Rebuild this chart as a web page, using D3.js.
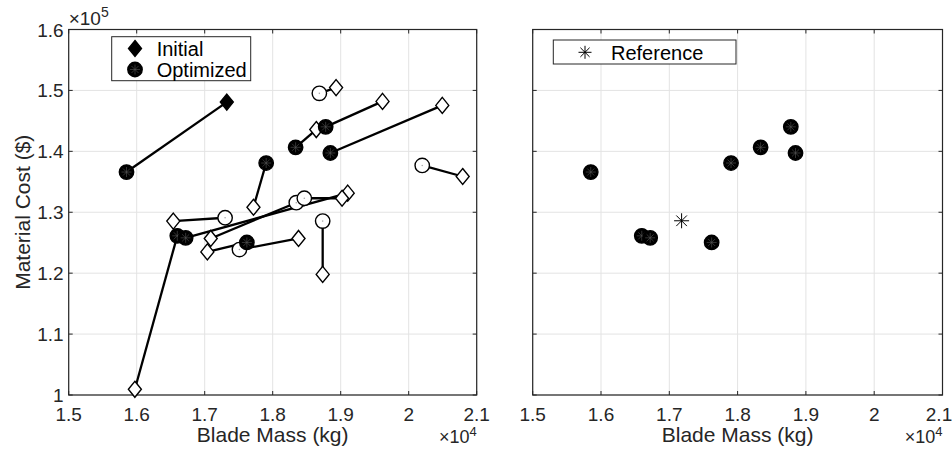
<!DOCTYPE html>
<html>
<head>
<meta charset="utf-8">
<script src="https://cdn.jsdelivr.net/npm/d3@7"></script>
<style>
  body { margin: 0; background: #fff; }
  svg { font-family: "Liberation Sans", Arial, Helvetica, sans-serif; }
</style>
</head>
<body>
<svg width="952" height="449"></svg>
<script>
"use strict";

// Data (mass in kg, cost in $)
const initMass = [17325, 15973, 19103, 17039, 17717, 18641, 19615, 20494, 18932, 20794, 16538, 18380, 17089, 19020, 18735];
const initCost = [148080, 100940, 133130, 123490, 130820, 143580, 148200, 147540, 150460, 135870, 128550, 125700, 125700, 132300, 119800];
const optMass = [15850, 16597, 16720, 17620, 17904, 18337, 18779, 18848, 18686, 20199, 17300, 17511, 18347, 18465, 18735];
const optCost = [136600, 126130, 125800, 125040, 138080, 140660, 144020, 139730, 149520, 137680, 129100, 123880, 131570, 132300, 128550];
const converged = [true, true, true, true, true, true, true, true, false, false, false, false, false, false, false];
const refMass = [17180];
const refCost = [128600];
const xTicks = [15000, 16000, 17000, 18000, 19000, 20000, 21000];
const yTicks = [100000, 110000, 120000, 130000, 140000, 150000, 160000];

// Layout
const yTop = 29.5, yBottom = 395;
const panels = [{ l: 68.7, r: 476.7 }, { l: 532.7, r: 942.5 }];
const ink = "#262626";
const W = 952;

const svg = d3.select("svg");

const yScale = d3.scaleLinear().domain([100000, 160000]).range([yBottom, yTop]);

function diamond(g, x, y, fill) {
  g.append("path")
    .attr("d", `M${x},${y - 8}L${x + 6.5},${y}L${x},${y + 8}L${x - 6.5},${y}Z`)
    .attr("fill", fill).attr("stroke", "#000").attr("stroke-width", 1.4);
}

function circle(g, x, y, filled) {
  g.append("circle").attr("cx", x).attr("cy", y).attr("r", 7.2)
    .attr("fill", filled ? "#000" : "#fff")
    .attr("stroke", "#000").attr("stroke-width", 1.4);
  if (filled) {
    for (let a = 0; a < 4; a++) {
      const t = a * Math.PI / 4;
      g.append("line")
        .attr("x1", x - 5 * Math.cos(t)).attr("y1", y - 5 * Math.sin(t))
        .attr("x2", x + 5 * Math.cos(t)).attr("y2", y + 5 * Math.sin(t))
        .attr("stroke", "#555").attr("stroke-width", 0.6);
    }
  } else {
    g.append("circle").attr("cx", x).attr("cy", y).attr("r", 0.8).attr("fill", "#aaa");
  }
}

function asterisk(g, x, y, s, w) {
  for (let a = 0; a < 4; a++) {
    const t = a * Math.PI / 4;
    g.append("line")
      .attr("x1", x - s * Math.cos(t)).attr("y1", y - s * Math.sin(t))
      .attr("x2", x + s * Math.cos(t)).attr("y2", y + s * Math.sin(t))
      .attr("stroke", "#000").attr("stroke-width", w);
  }
}

function drawAxes(p, xScale, showY) {
  const g = svg.append("g");
  // grid
  g.selectAll(".gx").data(xTicks).join("line")
    .attr("x1", d => xScale(d)).attr("x2", d => xScale(d))
    .attr("y1", yTop).attr("y2", yBottom)
    .attr("stroke", "#e3e3e3").attr("stroke-width", 1);
  g.selectAll(".gy").data(yTicks).join("line")
    .attr("x1", p.l).attr("x2", p.r)
    .attr("y1", d => yScale(d)).attr("y2", d => yScale(d))
    .attr("stroke", "#e3e3e3").attr("stroke-width", 1);
  // inward ticks on all sides
  xTicks.forEach(d => {
    g.append("line").attr("x1", xScale(d)).attr("x2", xScale(d)).attr("y1", yBottom).attr("y2", yBottom - 4).attr("stroke", ink);
    g.append("line").attr("x1", xScale(d)).attr("x2", xScale(d)).attr("y1", yTop).attr("y2", yTop + 4).attr("stroke", ink);
  });
  yTicks.forEach(d => {
    g.append("line").attr("x1", p.l).attr("x2", p.l + 4).attr("y1", yScale(d)).attr("y2", yScale(d)).attr("stroke", ink);
    g.append("line").attr("x1", p.r).attr("x2", p.r - 4).attr("y1", yScale(d)).attr("y2", yScale(d)).attr("stroke", ink);
  });
  g.append("rect").attr("x", p.l).attr("y", yTop)
    .attr("width", p.r - p.l).attr("height", yBottom - yTop)
    .attr("fill", "none").attr("stroke", ink).attr("stroke-width", 1.2);

  // tick labels (last one kept inside the page)
  g.selectAll(".tx").data(xTicks).join("text")
    .attr("x", d => Math.min(xScale(d), W - 13)).attr("y", 421)
    .attr("text-anchor", "middle").attr("font-size", 19).attr("fill", ink)
    .text(d => d3.format("")(d / 1e4));
  const xm = g.append("text").attr("x", p.r).attr("y", 443)
    .attr("text-anchor", "end").attr("font-size", 18).attr("fill", ink);
  xm.append("tspan").text("\u00d710");
  xm.append("tspan").attr("dy", -7).attr("font-size", 13).text("4");
  g.append("text").attr("x", (p.l + p.r) / 2).attr("y", 442)
    .attr("text-anchor", "middle").attr("font-size", 21).attr("fill", ink)
    .text("Blade Mass (kg)");

  if (showY) {
    g.selectAll(".ty").data(yTicks).join("text")
      .attr("x", p.l - 5).attr("y", d => yScale(d) + 7)
      .attr("text-anchor", "end").attr("font-size", 19).attr("fill", ink)
      .text(d => d3.format("")(d / 1e5));
    const ym = g.append("text").attr("x", p.l).attr("y", 25)
      .attr("font-size", 19).attr("fill", ink);
    ym.append("tspan").text("\u00d710");
    ym.append("tspan").attr("dy", -8).attr("font-size", 14).text("5");
    g.append("text")
      .attr("transform", `translate(30, ${(yTop + yBottom) / 2}) rotate(-90)`)
      .attr("text-anchor", "middle").attr("font-size", 21).attr("fill", ink)
      .text("Material Cost ($)");
  }
}

// Left panel
const xLeft = d3.scaleLinear().domain([15000, 21000]).range([panels[0].l, panels[0].r]);
drawAxes(panels[0], xLeft, true);

const gl = svg.append("g");
initMass.forEach((m, i) => {
  gl.append("line")
    .attr("x1", xLeft(m)).attr("y1", yScale(initCost[i]))
    .attr("x2", xLeft(optMass[i])).attr("y2", yScale(optCost[i]))
    .attr("stroke", "#000").attr("stroke-width", 2.3);
});
initMass.forEach((m, i) => {
  diamond(gl, xLeft(m), yScale(initCost[i]), i === 0 ? "#000" : "#fff");
});
// open circles first, filled on top
optMass.forEach((m, i) => {
  if (!converged[i]) circle(gl, xLeft(m), yScale(optCost[i]), false);
});
optMass.forEach((m, i) => {
  if (converged[i]) circle(gl, xLeft(m), yScale(optCost[i]), true);
});

// Left legend
const lg = svg.append("g");
lg.append("rect").attr("x", 111.7).attr("y", 36.7).attr("width", 139).attr("height", 44)
  .attr("fill", "#fff").attr("stroke", ink).attr("stroke-width", 1);
diamond(lg, 135, 48.5, "#000");
circle(lg, 135, 69.5, true);
lg.append("text").attr("x", 156.7).attr("y", 55.5).attr("font-size", 20).attr("fill", "#000").text("Initial");
lg.append("text").attr("x", 156.7).attr("y", 76.5).attr("font-size", 20).attr("fill", "#000").text("Optimized");

// Right panel
const xRight = d3.scaleLinear().domain([15000, 21000]).range([panels[1].l, panels[1].r]);
drawAxes(panels[1], xRight, false);

const gr = svg.append("g");
optMass.forEach((m, i) => {
  if (converged[i]) circle(gr, xRight(m), yScale(optCost[i]), true);
});
refMass.forEach((m, i) => asterisk(gr, xRight(m), yScale(refCost[i]), 7.5, 1));

// Right legend
const rg = svg.append("g");
rg.append("rect").attr("x", 553.3).attr("y", 40).attr("width", 182.7).attr("height", 24)
  .attr("fill", "#fff").attr("stroke", ink).attr("stroke-width", 1);
asterisk(rg, 585, 52.3, 6.5, 1);
rg.append("text").attr("x", 611).attr("y", 59.5).attr("font-size", 20).attr("fill", "#000").text("Reference");
</script>
</body>
</html>
